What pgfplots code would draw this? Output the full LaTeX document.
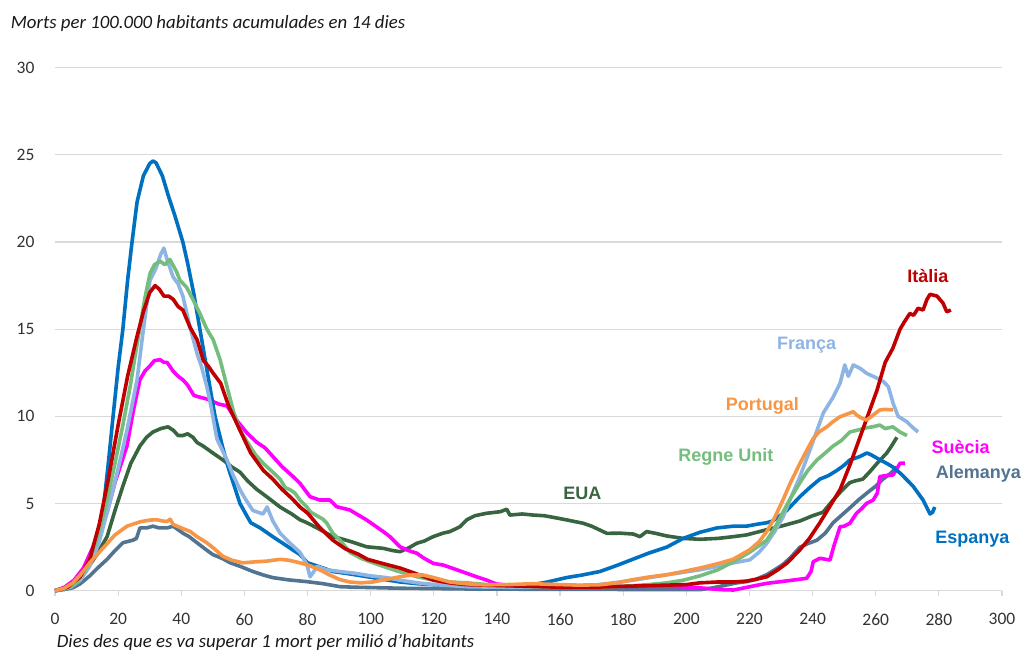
\documentclass[border=0pt]{standalone}
\usepackage{fontspec}
\setmainfont{Carlito}
\newfontfamily\lab{Liberation Sans}
\usepackage{pgfplots}
\pgfplotsset{compat=1.18}
\definecolor{esp}{RGB}{0,112,192}
\definecolor{ita}{RGB}{192,0,0}
\definecolor{fra}{RGB}{142,180,227}
\definecolor{por}{RGB}{247,150,70}
\definecolor{reg}{RGB}{116,189,125}
\definecolor{eua}{RGB}{56,100,64}
\definecolor{sue}{RGB}{255,0,255}
\definecolor{ale}{RGB}{82,116,144}
\begin{document}
\begin{tikzpicture}
\useasboundingbox (0,0) rectangle (1024pt,653pt);
\begin{axis}[
  at={(55pt,62.3pt)}, anchor=south west,
  scale only axis, width=947pt, height=523pt,
  xmin=0, xmax=300, ymin=0, ymax=30,
  xtick={0,20,...,300}, ytick={0,5,...,30},
  axis x line=bottom, axis y line=left,
  x axis line style={-, draw=black!15, line width=1.2pt},
  y axis line style={draw=none},
  ymajorgrids, grid style={draw=black!15, line width=1.2pt},
  xtick style={draw=black!15, line width=1.2pt},
  ytick style={draw=none},
  tick align=outside, major tick length=5pt,
  tick label style={font=\fontsize{17.5}{20}\selectfont, text=black!80},
  yticklabel style={xshift=-12pt},
  xticklabel style={yshift=-14pt},
  /pgf/number format/assume math mode=true,
  clip=false,
  every axis plot/.append style={line width=3.6pt, no markers, line join=round},
]
% EUA
\addplot[eua] coordinates {(0,0)(4,0.2)(7,0.6)(10,1.2)(13,2.0)(16.5,3.1)(19,4.6)(21.5,6.0)(24,7.3)(26.9,8.3)(29,8.8)(31,9.1)(33.5,9.3)(35.8,9.4)(37.5,9.2)(39,8.9)(40.5,8.9)(42,9.0)(43.7,8.8)(45,8.5)(46.9,8.3)(50,7.9)(53.2,7.5)(56,7.1)(58.6,6.8)(61,6.3)(64,5.8)(67,5.4)(71.3,4.8)(75,4.4)(77.6,4.07)(79.8,3.9)(83,3.6)(88,3.1)(90.3,3.0)(94,2.8)(98.7,2.52)(104,2.43)(107,2.3)(109.3,2.24)(112,2.45)(114.6,2.72)(117,2.85)(119.8,3.1)(122.9,3.3)(125.1,3.39)(128.3,3.67)(130.4,4.06)(133,4.3)(136.7,4.44)(141,4.53)(143.1,4.67)(144.1,4.34)(148,4.4)(151.5,4.34)(155,4.3)(157.8,4.21)(162.1,4.06)(167.3,3.87)(170,3.7)(172.6,3.48)(174.8,3.29)(179,3.3)(183.2,3.25)(185.3,3.1)(187.4,3.39)(190,3.3)(193.8,3.14)(199,3.0)(204.3,2.95)(210,3.0)(214.9,3.1)(219.1,3.2)(225.5,3.5)(230,3.7)(236,4.0)(240,4.3)(243.3,4.5)(246.5,5.2)(249,5.7)(251.8,6.2)(253.5,6.3)(255.9,6.4)(258,6.8)(260.4,7.3)(263.5,7.9)(265,8.3)(266.7,8.8)};
% Alemanya
\addplot[ale] coordinates {(0,0)(3,0.07)(5.7,0.17)(8,0.4)(11,0.85)(13.5,1.3)(16.5,1.8)(19,2.3)(21.5,2.75)(24.7,2.9)(25.8,3.0)(26.9,3.6)(29,3.6)(31,3.7)(33,3.6)(35.5,3.6)(37.4,3.7)(39,3.5)(40.5,3.3)(42.5,3.1)(45,2.75)(47.5,2.4)(50,2.07)(53,1.85)(55.5,1.6)(58.6,1.4)(62.7,1.1)(66,0.9)(69,0.75)(74,0.62)(79.8,0.52)(85,0.4)(90.3,0.23)(95,0.2)(100,0.18)(110,0.14)(120,0.12)(130,0.1)(140,0.1)(150,0.08)(160,0.08)(170,0.08)(180,0.07)(190,0.07)(200,0.07)(204.3,0.06)(208,0.15)(212,0.3)(216,0.45)(219.1,0.52)(222,0.65)(225.5,0.92)(228,1.2)(230.6,1.5)(233,1.9)(236,2.5)(238.5,2.7)(241.4,2.9)(244,3.3)(246.5,3.9)(249,4.3)(251.8,4.75)(254.5,5.2)(257.2,5.6)(260,6.0)(262.3,6.4)(264.5,6.7)(266.7,7.1)};
% Suecia
\addplot[sue] coordinates {(0,0)(3,0.2)(6,0.6)(9,1.3)(12,2.5)(14,3.4)(16.5,4.5)(19,6.2)(22.8,8.3)(24.8,10.3)(26.9,12.1)(28.5,12.6)(30.1,12.9)(31.5,13.2)(33.3,13.25)(34.5,13.1)(35.5,13.1)(37.4,12.6)(39,12.3)(40.5,12.1)(42,11.8)(44,11.2)(45.9,11.1)(48,11.0)(50,10.85)(52,10.7)(54.5,10.6)(57,9.9)(60.8,9.05)(64,8.5)(66.5,8.2)(69,7.7)(72,7.1)(75.4,6.55)(77.6,6.16)(80.8,5.39)(83.9,5.2)(87.1,5.2)(89.2,4.82)(93.4,4.63)(96,4.35)(98.7,4.06)(104,3.39)(106.1,3.1)(109.3,2.52)(112,2.3)(114.6,2.15)(117,1.85)(119.8,1.57)(123,1.47)(126.5,1.25)(130.4,1.0)(133.5,0.8)(136.7,0.61)(139.9,0.38)(145,0.3)(155,0.25)(165,0.25)(175,0.25)(185,0.25)(195,0.25)(202,0.2)(207,0.12)(211,0.06)(214.9,0.04)(218,0.15)(222,0.3)(225.4,0.42)(229,0.5)(233.9,0.61)(238.1,0.71)(239.5,1.1)(240.2,1.66)(242.3,1.86)(245.5,1.76)(246.8,2.6)(248.7,3.67)(250,3.7)(251.8,3.87)(253.9,4.44)(255.5,4.7)(257.1,5.01)(259.2,5.2)(260.5,5.6)(261.3,6.54)(263,6.6)(265.5,6.64)(267.7,7.31)(269.2,7.31)};
% Espanya
\addplot[esp] coordinates {(0,0)(3,0.1)(6,0.35)(9,0.9)(11,1.6)(13,2.6)(14.3,3.5)(15.5,5)(17,7.5)(18.4,10)(20,12.8)(21.5,15)(23,17.8)(24.4,20)(26,22.3)(28,23.8)(30,24.5)(31,24.65)(32,24.55)(34,23.8)(36,22.6)(38,21.5)(40.5,20)(42,18.8)(44,17)(45.9,15)(48,12.8)(50.7,10)(53,8.3)(55,7)(58.6,5)(62,3.9)(65,3.6)(69,3.1)(74,2.5)(77.6,2.07)(80,1.6)(85,1.3)(88,1.1)(92,1.0)(99,0.8)(104,0.65)(109.3,0.5)(115,0.4)(120,0.34)(130,0.25)(141,0.17)(146,0.22)(151,0.34)(156,0.5)(162,0.75)(167,0.9)(172.6,1.1)(178,1.45)(183,1.8)(188,2.15)(193.8,2.5)(199,3.0)(204.3,3.35)(209.7,3.6)(214.8,3.7)(219,3.7)(222,3.8)(225.5,3.9)(227.4,4.0)(231.8,4.6)(236,5.4)(239,5.9)(242.3,6.4)(245,6.6)(247.7,6.9)(250,7.2)(251.8,7.5)(253.5,7.6)(255,7.7)(257.2,7.9)(258.5,7.8)(260.4,7.6)(263.5,7.3)(265.4,7.1)(268,6.7)(271.8,6.0)(275,5.2)(277.2,4.4)(278,4.5)(278.7,4.8)};
% Franca
\addplot[fra] coordinates {(0,0)(5,0.2)(8,0.6)(11,1.4)(14,2.8)(18,5.5)(20,7)(22.8,9.2)(26,12.1)(28,15)(30.1,17.8)(32,18.5)(33.5,19.3)(34.5,19.65)(35.5,19.0)(37.4,18.0)(39,17.6)(40.5,16.9)(42.8,15.1)(45,13.6)(46.5,12.8)(48.1,11.7)(49.5,10.5)(51.3,8.7)(54.5,7.5)(56.5,6.6)(58.6,5.8)(60.5,5.2)(62.7,4.6)(65.9,4.4)(67.2,4.8)(69,4.0)(71.3,3.3)(74,2.8)(77.6,2.2)(79.8,1.5)(80.8,0.8)(82,1.1)(83,1.4)(86,1.2)(90.3,1.1)(95,1.0)(100,0.85)(105,0.75)(109.3,0.6)(115,0.45)(120,0.35)(130.5,0.23)(140,0.2)(150,0.2)(160,0.25)(170,0.3)(177,0.45)(183,0.6)(190,0.8)(197,1.0)(204.3,1.2)(210,1.4)(215,1.6)(220.1,1.77)(223,2.2)(225.4,2.7)(228,3.4)(230.7,4.25)(233,5.3)(236,6.55)(239.2,8.1)(241,9.0)(243.4,10.2)(246.5,11.1)(248.7,11.9)(250.2,12.95)(251.3,12.3)(252.9,12.95)(255,12.76)(257.1,12.47)(260.3,12.2)(262.4,12.0)(264,11.7)(265.5,10.75)(267.1,10.0)(269.8,9.7)(271.5,9.4)(273.4,9.1)};
% Regne Unit
\addplot[reg] coordinates {(0,0)(4,0.15)(7,0.5)(10,1.3)(13,2.8)(16,4.8)(19,7.3)(21.5,9.5)(23.8,11.7)(25.5,13.6)(26.9,15.1)(28.5,16.8)(30.1,18.2)(31.5,18.7)(33.3,18.9)(34.8,18.7)(36.4,19.0)(38.5,18.3)(39.6,17.8)(41.7,17.4)(43.7,16.7)(45.9,15.9)(48.1,15.0)(50.1,14.4)(52.3,13.25)(54.5,11.7)(56.5,10.3)(58.6,9.2)(61,8.5)(63.5,7.8)(66,7.3)(69,6.8)(71.3,6.4)(73,5.9)(74.4,5.8)(76,5.6)(77.6,5.2)(79.8,4.8)(81,4.5)(83,4.3)(84.9,4.1)(86,3.9)(88,3.3)(90.3,2.9)(93.4,2.2)(97,1.85)(100,1.65)(103.9,1.4)(108,1.15)(114.7,0.8)(120,0.6)(125,0.5)(130.5,0.45)(140,0.3)(150,0.25)(160,0.2)(170,0.2)(180,0.25)(188,0.35)(193.9,0.45)(199,0.6)(204.3,0.85)(210,1.2)(214.8,1.65)(220,2.2)(225.5,2.9)(228,3.6)(230.6,4.5)(233,5.3)(236,6.2)(238.5,6.9)(241.4,7.5)(244,7.9)(246.5,8.3)(249,8.6)(251.8,9.1)(254,9.2)(257.2,9.35)(259,9.4)(261.3,9.5)(263,9.3)(265.4,9.4)(267.7,9.1)(269.9,8.9)};
% Italia
\addplot[ita] coordinates {(0,0)(4,0.2)(8,0.8)(11,1.8)(14,3.8)(17,6.5)(20,9.5)(23,12.3)(26,14.6)(28,16)(30,17.1)(31.7,17.5)(33,17.3)(34.5,16.9)(36,16.9)(37.5,16.7)(39,16.3)(40.5,16.1)(42.8,15.1)(45,14.4)(47,13.2)(48.5,12.9)(50,12.5)(52.5,11.9)(55,10.6)(58.6,9.2)(62,7.9)(66,6.9)(69,6.4)(72,5.8)(75,5.3)(77.6,4.8)(80,4.45)(84,3.6)(88,2.9)(92,2.4)(96,2.1)(99,1.8)(104,1.55)(109.3,1.3)(114,1.0)(120,0.6)(125,0.45)(130,0.35)(140,0.3)(150,0.25)(160,0.2)(170,0.2)(180,0.25)(190,0.3)(200,0.35)(204.3,0.45)(210,0.5)(215,0.5)(219,0.55)(222,0.65)(225.5,0.8)(229,1.2)(232,1.6)(236,2.35)(239,3.0)(242.3,3.9)(245,4.7)(248.7,5.8)(252,7.3)(255,8.8)(258,10.3)(260.4,11.5)(263,13.1)(265.4,13.9)(267.7,15.0)(269,15.4)(270.8,15.9)(272,15.8)(273.4,16.2)(275,16.1)(276.2,16.7)(277.2,17.0)(279.4,16.9)(281.3,16.5)(282.5,16.0)(283.8,16.1)};
% Portugal
\addplot[por] coordinates {(0,0)(3,0.15)(5.7,0.45)(8,0.9)(11,1.6)(14,2.2)(16.5,2.7)(19,3.2)(22.8,3.7)(26.9,3.95)(30,4.05)(32.3,4.07)(34,4.0)(35.5,3.97)(36.5,4.1)(37.4,3.8)(40,3.6)(42.8,3.4)(45,3.1)(48.1,2.75)(50.5,2.4)(53.2,1.97)(56,1.75)(59.5,1.6)(63,1.65)(67.2,1.7)(71.3,1.8)(74,1.75)(77.6,1.6)(80.5,1.45)(83.9,1.2)(87,0.9)(90.3,0.63)(93.4,0.5)(97,0.45)(100.7,0.5)(105,0.65)(109.3,0.8)(113,0.9)(116.6,0.9)(120,0.75)(125.1,0.5)(130,0.4)(135.6,0.34)(143,0.35)(151.4,0.4)(160,0.35)(166,0.32)(172.6,0.34)(178,0.45)(183,0.63)(188,0.78)(193.9,0.92)(199,1.1)(204.3,1.3)(210,1.55)(214.8,1.8)(220.1,2.35)(223,2.8)(225.5,3.4)(228,4.2)(230.6,5.2)(233,6.2)(236,7.3)(238,8.0)(240.1,8.7)(242,9.1)(244.5,9.4)(246.5,9.7)(248.7,9.98)(250.5,10.1)(252.9,10.27)(253.9,10.08)(255.5,9.9)(257.1,9.79)(259,10.05)(261.3,10.37)(263,10.4)(265.5,10.37)};
% series names
\begin{scope}[every node/.style={font=\lab\bfseries\fontsize{18}{20}\selectfont}]
\node[text=ita] at (axis cs:276.5,18.06) {Itàlia};
\node[text=fra] at (axis cs:238.1,14.1) {França};
\node[text=por] at (axis cs:224.1,10.6) {Portugal};
\node[text=reg] at (axis cs:212.5,7.69) {Regne Unit};
\node[text=eua] at (axis cs:167.1,5.6) {EUA};
\node[text=sue] at (axis cs:286.9,8.26) {Suècia};
\node[text=ale] at (axis cs:292.5,6.73) {Alemanya};
\node[text=esp] at (axis cs:290.6,2.93) {Espanya};
\end{scope}
\end{axis}
\node[anchor=base west, inner sep=0pt, font=\itshape\fontsize{18.8}{22}\selectfont, text=black!90] at (10.7pt,624pt) {Morts per 100.000 habitants acumulades en 14 dies};
\node[anchor=base west, inner sep=0pt, font=\itshape\fontsize{18.8}{22}\selectfont, text=black!90] at (56.7pt,5.7pt) {Dies des que es va superar 1 mort per milió d’habitants};
\end{tikzpicture}
\end{document}
